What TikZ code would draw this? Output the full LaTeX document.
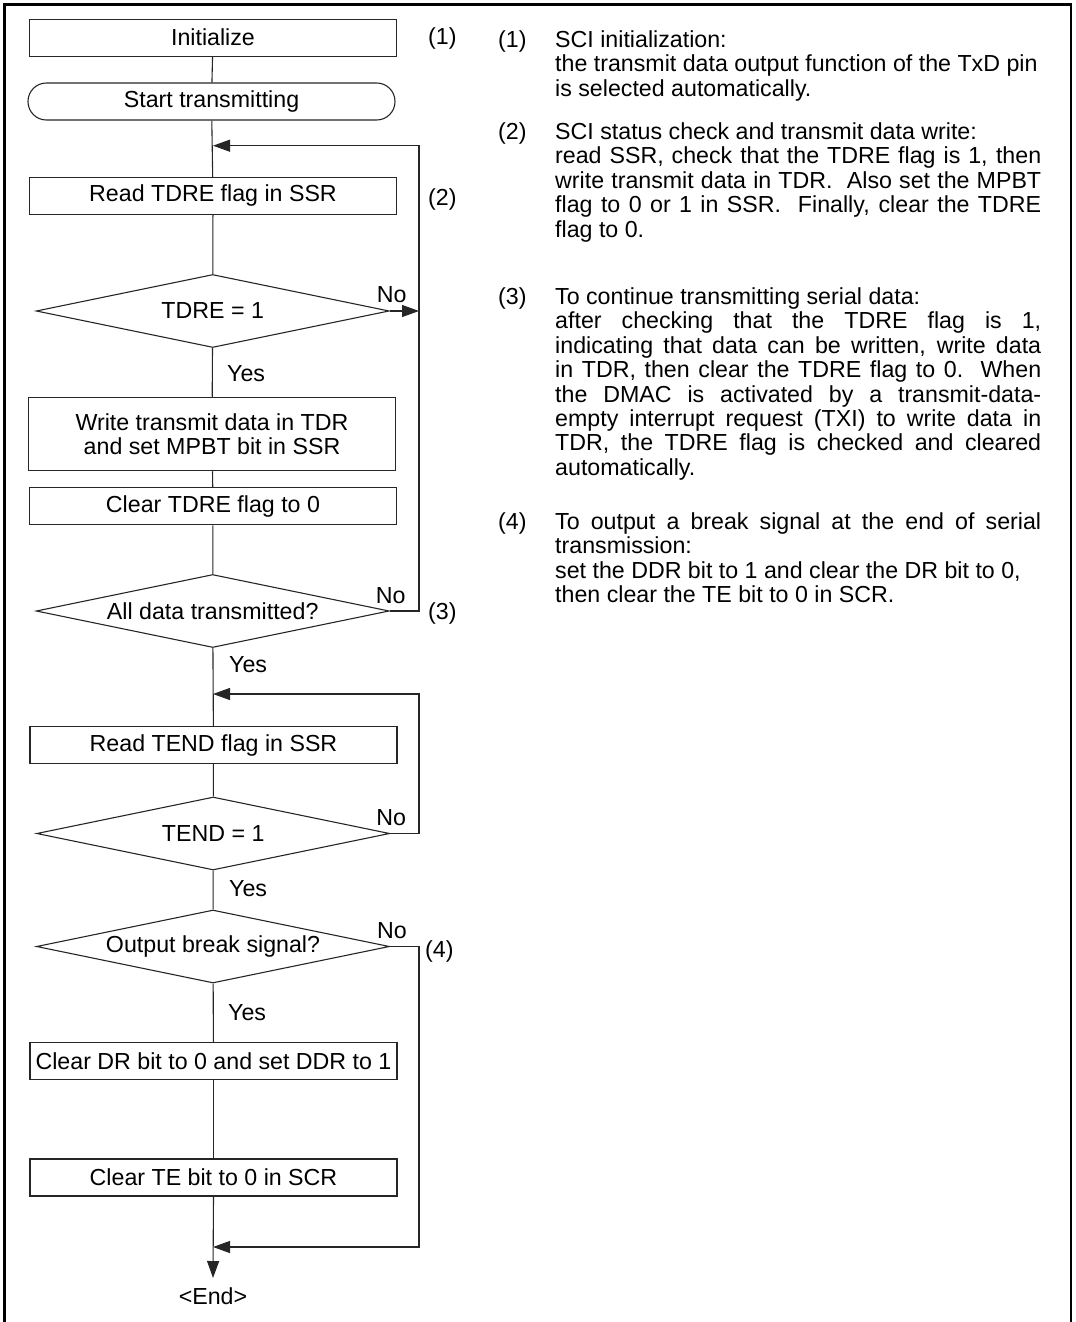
\documentclass[tikz,border=0pt]{standalone}
\usepackage{fontspec}
\setmainfont{Liberation Sans}
\usetikzlibrary{shapes.geometric,arrows.meta,calc}
\newcommand\flowfont{\fontsize{23.2bp}{24.4bp}\selectfont}
\tikzset{
  ln/.style={line width=1.1bp, draw=black!85},
  fbox/.style={ln, rectangle, minimum width=367bp, minimum height=37bp, inner sep=0pt, font=\flowfont, align=center},
  term/.style={fbox, rounded corners=18.4bp},
  dec/.style={ln, diamond, shape aspect=4.8, minimum width=353bp, minimum height=73bp, inner sep=0pt, font=\flowfont},
  arr/.style={ln, -{Triangle[length=17bp,width=12bp]}},
  lbl/.style={font=\flowfont, inner sep=0pt},
  para/.style={font=\flowfont, text width=486bp, align=justify, inner sep=0pt},
}
\begin{document}
\begin{tikzpicture}[x=1bp,y=-1bp]
\useasboundingbox (0,0) rectangle (1075,1322);
\clip (0,0) rectangle (1075,1322);
\draw[line width=2.6bp] (4.6,1340) -- (4.6,4.4) -- (1070.8,4.4) -- (1070.8,1340);

% flowchart nodes
\node[fbox] (init) at (213,37.7) {Initialize};
\node[term, minimum width=367bp] (start) at (211.5,101.5) {Start transmitting};
\node[fbox] (rd1) at (213,196) {Read TDRE flag in SSR};
\node[dec] (d1) at (212.7,311) {TDRE = 1};
\node[fbox, minimum height=73.4bp] (wr) at (212,434) {Write transmit data in TDR\\ and set MPBT bit in SSR};
\node[fbox] (clr) at (213,506.3) {Clear TDRE flag to 0};
\node[dec] (d2) at (212.7,611) {All data transmitted?};
\node[fbox] (rd2) at (213.5,745) {Read TEND flag in SSR};
\node[dec] (d3) at (213.2,833.5) {TEND = 1};
\node[dec] (d4) at (213,946.5) {Output break signal?};
\node[fbox] (cdr) at (213.5,1061) {Clear DR bit to 0 and set DDR to 1};
\node[fbox] (cte) at (213.5,1177.5) {Clear TE bit to 0 in SCR};
\node[lbl] (endn) at (213,1296) {<End>};

% junction coordinates
\coordinate (j1) at (213,145.7);
\coordinate (r1) at (419,145.7);
\coordinate (j2) at (213,694);
\coordinate (r2) at (419,694);
\coordinate (j3) at (213,1247);
\coordinate (r3) at (419,1247);
\coordinate (endtip) at (213,1278);

% main flow
\draw[ln] (init) -- (start);
\draw[ln] (start) -- (rd1);
\draw[ln] (rd1) -- (d1);
\draw[ln] (d1) -- (wr);
\draw[ln] (wr) -- (clr);
\draw[ln] (clr) -- (d2);
\draw[ln] (d2) -- (rd2);
\draw[ln] (rd2) -- (d3);
\draw[ln] (d3) -- (d4);
\draw[ln] (d4) -- (cdr);
\draw[ln] (cdr) -- (cte);
\draw[arr] (cte.south) -- (endtip);

% loops
\draw[arr] (d1.east) -- (d1.east -| r1);
\draw[arr] (d2.east) -| (r1) -- (j1);
\draw[arr] (d3.east) -| (r2) -- (j2);
\draw[arr] (d4.east) -| (r3) -- (j3);

% labels
\node[lbl, anchor=base] (no1) at ($(d1.east)+(2,-8)$) {No};
\node[lbl, anchor=base] (no2) at ($(d2.east)+(1,-8)$) {No};
\node[lbl, anchor=base] (no3) at ($(d3.east)+(1,-8)$) {No};
\node[lbl, anchor=base] (no4) at ($(d4.east)+(2,-8)$) {No};
\node[lbl, anchor=west] (y1) at (227,373.3) {Yes};
\node[lbl, anchor=west] (y2) at (229,665) {Yes};
\node[lbl, anchor=west] (y3) at (229,889) {Yes};
\node[lbl, anchor=west] (y4) at (228,1013) {Yes};
\node[lbl, anchor=west] (k1) at (428,38.3) {(1)};
\node[lbl, anchor=west] (k2) at (428,199) {(2)};
\node[lbl, anchor=west] (k3) at (428,613) {(3)};
\node[lbl, anchor=west] (k4) at (425,951.7) {(4)};

% notes
\node[lbl, anchor=base west] (n1) at (498,47.5) {(1)};
\node[para, anchor=base west] (p1) at (555,47.5) {\hyphenpenalty=10000 \exhyphenpenalty=10000 \tolerance=9999
SCI initialization:\\
the transmit data output function of the TxD pin\\
is selected automatically.};
\node[lbl, anchor=base west] (n2) at (498,139.5) {(2)};
\node[para, anchor=base west] (p2) at (555,139.5) {\hyphenpenalty=10000 \exhyphenpenalty=10000 \tolerance=9999
SCI status check and transmit data write:\\
read SSR, check that the TDRE flag is 1, then\linebreak
write transmit data in TDR.\ \ Also set the MPBT\linebreak
flag to 0 or 1 in SSR.\ \ Finally, clear the TDRE\linebreak
flag to 0.};
\node[lbl, anchor=base west] (n3) at (498,304.5) {(3)};
\node[para, anchor=base west] (p3) at (555,304.5) {\hyphenpenalty=10000 \exhyphenpenalty=10000 \tolerance=9999
To continue transmitting serial data:\\
after checking that the TDRE flag is 1,\linebreak
indicating that data can be written, write data\linebreak
in TDR, then clear the TDRE flag to 0.\ \ When\linebreak
the DMAC is activated by a transmit-data-\linebreak
empty interrupt request (TXI) to write data in\linebreak
TDR, the TDRE flag is checked and cleared\linebreak
automatically.};
\node[lbl, anchor=base west] (n4) at (498,529.5) {(4)};
\node[para, anchor=base west] (p4) at (555,529.5) {\hyphenpenalty=10000 \exhyphenpenalty=10000 \tolerance=9999
To output a break signal at the end of serial\linebreak
transmission:\\
set the DDR bit to 1 and clear the DR bit to 0,\\
then clear the TE bit to 0 in SCR.};
\end{tikzpicture}
\end{document}
